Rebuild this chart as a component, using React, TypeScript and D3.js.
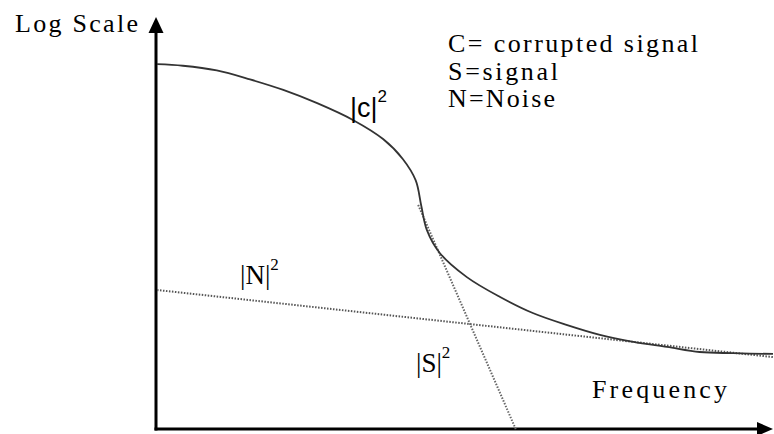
import React from "react";
import * as d3 from "d3";

const W = 774;
const H = 434;

// |C|^2 : corrupted signal spectrum, sampled in (frequency, log power) units
const cFreq = [0, 0.42, 0.97, 1.51, 2.05, 2.6, 3.18, 3.67, 3.99, 4.2, 4.29, 4.38, 4.59, 5.03, 5.57, 6.1, 6.66, 7.19, 7.73, 8.28, 8.81, 9.35, 10.0];
const cPower = [9.38, 9.34, 9.22, 8.99, 8.72, 8.38, 7.95, 7.46, 6.95, 6.4, 5.75, 5.13, 4.54, 3.92, 3.41, 3.0, 2.69, 2.44, 2.26, 2.13, 2.0, 1.97, 1.95];

// |N|^2 : noise floor
const nFreq = [0, 10];
const nPower = [3.59, 1.87];

// |S|^2 : signal roll-off
const sFreq = [4.24, 5.83];
const sPower = [5.77, 0];

// legend lines
const legendLines = ["C= corrupted signal", "S=signal", "N=Noise"];
const legendWidths = [250, 110, 107];

const serif = "Liberation Serif, DejaVu Serif, Noto Serif, serif";
const sans = "Liberation Sans, Arial, sans-serif";

export default function App() {
  const x = d3.scaleLinear().domain([0, 10]).range([157, 773]);
  const y = d3.scaleLinear().domain([0, 10]).range([430, 40]);

  const smooth = d3
    .line<[number, number]>()
    .x((d) => x(d[0]))
    .y((d) => y(d[1]))
    .curve(d3.curveCatmullRom.alpha(0.5));
  const straight = d3
    .line<[number, number]>()
    .x((d) => x(d[0]))
    .y((d) => y(d[1]));

  const cPts: [number, number][] = cFreq.map((f, i) => [f, cPower[i]]);
  const nPts: [number, number][] = nFreq.map((f, i) => [f, nPower[i]]);
  const sPts: [number, number][] = sFreq.map((f, i) => [f, sPower[i]]);

  const x0 = x(0) - 1;
  const yb = y(0);

  return (
    <svg
      width={W}
      height={H}
      style={{ position: "absolute", left: 0, top: 0, background: "#fff" }}
    >
      <rect width={W} height={H} fill="#fff" />

      {/* axes */}
      <line x1={x0} y1={yb + 0.5} x2={x0} y2={30} stroke="#000" strokeWidth={3} />
      <path d={`M${x0},17 L${x0 - 7.5},33 L${x0 + 7.5},33 Z`} fill="#000" />
      <line x1={x0 - 1.5} y1={yb - 1} x2={758} y2={yb - 1} stroke="#000" strokeWidth={3} />
      <path d={`M773,${yb - 1} L757,${yb - 8} L757,${yb + 6} Z`} fill="#000" />

      {/* noise and signal (dotted) */}
      <path
        d={straight(nPts) || ""}
        fill="none"
        stroke="#555"
        strokeWidth={2}
        strokeDasharray="1.5 1.5"
      />
      <path
        d={straight(sPts) || ""}
        fill="none"
        stroke="#666"
        strokeWidth={2}
        strokeDasharray="1.5 1.5"
      />

      {/* corrupted signal */}
      <path d={smooth(cPts) || ""} fill="none" stroke="#333" strokeWidth={1.8} />

      {/* axis titles */}
      <text x={15} y={32} fontFamily={serif} fontSize={26} textLength={123} lengthAdjust="spacing" fill="#000">
        Log Scale
      </text>
      <text x={592} y={398} fontFamily={serif} fontSize={26} textLength={135} lengthAdjust="spacing" fill="#000">
        Frequency
      </text>

      {/* legend */}
      {legendLines.map((t, i) => (
        <text
          key={t}
          x={448}
          y={52 + i * 27.5}
          fontFamily={serif}
          fontSize={26}
          textLength={legendWidths[i]}
          lengthAdjust="spacing"
          fill="#000"
        >
          {t}
        </text>
      ))}

      {/* curve labels */}
      <text x={350} y={117} fontFamily={sans} fontSize={27} fill="#000">
        |c|
        <tspan fontSize={17} dy={-15}>2</tspan>
      </text>
      <text x={240} y={284} fontFamily={serif} fontSize={27} fill="#000">
        |N|
        <tspan fontSize={17} dy={-14}>2</tspan>
      </text>
      <text x={416} y={372} fontFamily={serif} fontSize={27} fill="#000">
        |S|
        <tspan fontSize={17} dy={-14}>2</tspan>
      </text>
    </svg>
  );
}
